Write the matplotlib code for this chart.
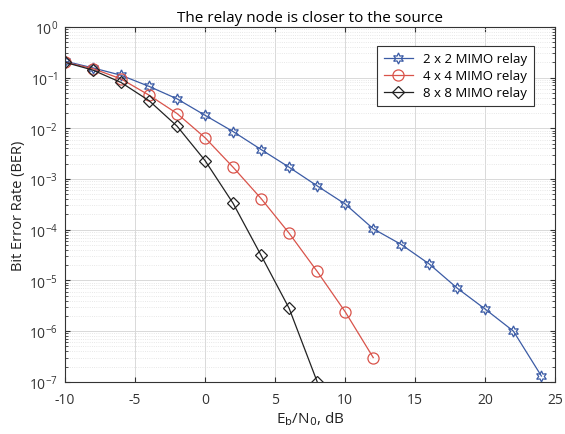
import numpy as np
import matplotlib.pyplot as plt
from matplotlib.ticker import LogLocator, NullFormatter

plt.rcParams['font.family'] = ['Open Sans', 'DejaVu Sans']
plt.rcParams['axes.unicode_minus'] = False

snr = [-10, -8, -6, -4, -2, 0, 2, 4, 6, 8, 10, 12, 14, 16, 18, 20, 22, 24]
ber_2x2 = [0.21, 0.155, 0.111, 0.067, 0.038, 0.018, 0.0086, 0.0038, 0.0017,
           7.3e-4, 3.2e-4, 1.04e-4, 5.1e-5, 2.1e-5, 7e-6, 2.7e-6, 1e-6, 1.3e-7]
ber_4x4 = [0.2, 0.15, 0.094, 0.045, 0.0195, 0.0065, 0.0017, 4.1e-4, 8.5e-5,
           1.5e-5, 2.4e-6, 3e-7]
ber_8x8 = [0.2, 0.14, 0.08, 0.035, 0.011, 0.0023, 3.3e-4, 3.1e-5, 2.8e-6, 1e-7]
labels = ['2 x 2 MIMO relay', '4 x 4 MIMO relay', '8 x 8 MIMO relay']

fig = plt.figure(figsize=(5.65, 4.35), dpi=100)
ax = fig.add_axes([0.115, 0.12, 0.868, 0.816])

ax.semilogy(snr, ber_2x2, '-', color='#3b5ba5', lw=0.9, marker=(6, 1, 0),
            ms=8, mfc='none', mew=0.9, label=labels[0])
ax.semilogy(snr[:len(ber_4x4)], ber_4x4, '-', color='#d9534a', lw=0.9, marker='o',
            ms=8, mfc='none', mew=0.9, label=labels[1])
ax.semilogy(snr[:len(ber_8x8)], ber_8x8, '-', color='#222222', lw=0.9, marker='D',
            ms=6.5, mfc='none', mew=0.9, label=labels[2])

ax.set_xlim(-10, 25)
ax.set_ylim(1e-7, 1)
ax.set_xticks([-10, -5, 0, 5, 10, 15, 20, 25])
ax.yaxis.set_major_locator(LogLocator(base=10, numticks=10))
ax.yaxis.set_minor_locator(LogLocator(base=10, subs=np.arange(2, 10), numticks=20))
ax.yaxis.set_minor_formatter(NullFormatter())

ax.grid(True, which='major', color='#d9d9d9', lw=0.7)
ax.grid(True, which='minor', axis='y', color='#e0e0e0', lw=0.6, ls=':')
ax.set_axisbelow(True)
ax.tick_params(direction='in', which='both', top=True, right=True, labelsize=10,
               colors='#333333')
ax.tick_params(axis='x', pad=7)
ax.tick_params(axis='y', pad=5)
ax.tick_params(which='minor', length=2)
for s in ax.spines.values():
    s.set_color('#333333')
    s.set_linewidth(0.8)

ax.set_title('The relay node is closer to the source', fontsize=11, pad=4)
ax.set_xlabel(r'E$_{\rm b}$/N$_{\rm 0}$, dB', fontsize=11, color='#222222', labelpad=2)
ax.set_ylabel('Bit Error Rate (BER)', fontsize=10.5, color='#222222', labelpad=2)

leg = ax.legend(loc='upper right', bbox_to_anchor=(0.97, 0.965), fontsize=9.5,
                fancybox=False, framealpha=1, edgecolor='#333333',
                handlelength=2.2, borderpad=0.5, labelspacing=0.3)
leg.get_frame().set_linewidth(0.8)

fig.savefig('out.png', dpi=100)
